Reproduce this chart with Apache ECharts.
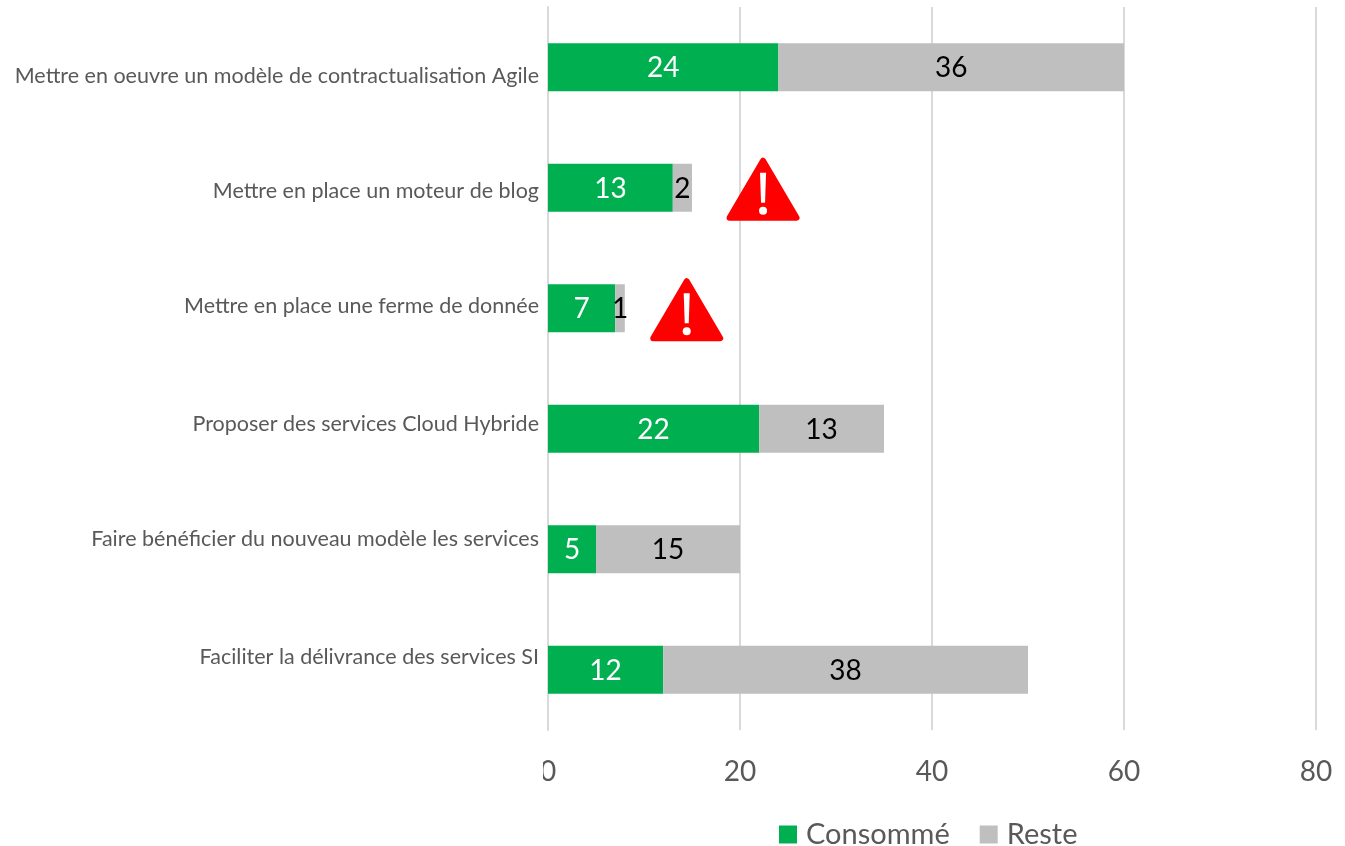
<!DOCTYPE html>
<html><head><meta charset="utf-8"><style>html,body{margin:0;padding:0;background:#fff}#c{width:1345px;height:846px}</style>
<script src="https://cdn.jsdelivr.net/npm/echarts@6/dist/echarts.min.js"></script></head>
<body><div id="c"></div><script>
const categories=["Mettre en oeuvre un modèle de contractualisation Agile","Mettre en place un moteur de blog","Mettre en place une ferme de donnée","Proposer des services Cloud Hybride","Faire bénéficier du nouveau modèle les services","Faciliter la délivrance des services SI"];
const consomme=[24,13,7,22,5,12];
const reste=[36,2,1,13,15,38];
const warnings=[[22.4,1],[14.45,2]];
const labelShift=[9,3,-2,-5,-10,-13];
const font="Lato";
const rich={};
labelShift.forEach((s,i)=>{rich['r'+i]={fontSize:21.5,color:'#595959',fontFamily:font,padding:s>0?[2*s,0,0,0]:[0,0,-2*s,0]};});
const chart=echarts.init(document.getElementById('c'));
chart.setOption({animation:false,textStyle:{fontFamily:font},
grid:{left:548,top:7,width:768,height:723,containLabel:false},
legend:{top:815,left:774,itemWidth:18,itemHeight:18,itemGap:30,icon:'rect',textStyle:{fontSize:29,color:'#595959',fontFamily:font,padding:[0,0,0,4]},data:['Consommé','Reste']},
xAxis:{type:'value',min:0,max:80,interval:20,axisLine:{show:false},axisTick:{show:false},axisLabel:{fontSize:28,color:'#595959',margin:28},splitLine:{show:true,lineStyle:{color:'#d9d9d9',width:2}}},
yAxis:{type:'category',inverse:true,data:categories,axisTick:{show:false},axisLine:{show:true,lineStyle:{color:'#d9d9d9',width:2}},axisLabel:{fontSize:21.5,color:'#595959',margin:9,fontFamily:font,rich:rich,formatter:function(v,i){return '{r'+i+'|'+v+'}';}}},
graphic:[{type:'rect',z:100,shape:{x:530,y:750,width:13,height:40},style:{fill:'#fff'}}],
series:[
{name:'Consommé',type:'bar',stack:'t',barWidth:48,data:consomme,itemStyle:{color:'#00b050'},label:{show:true,position:'inside',color:'#fff',fontSize:28,offset:[0,1]}},
{name:'Reste',type:'bar',stack:'t',data:reste,itemStyle:{color:'#bfbfbf'},label:{show:true,position:'inside',color:'#000',fontSize:28,offset:[0,1]}},
{type:'custom',silent:true,coordinateSystem:'cartesian2d',data:warnings,z:5,renderItem:function(p,api){
const c=api.coord([api.value(0),api.value(1)]);const x=c[0],y=c[1];
return {type:'group',children:[
{type:'polygon',shape:{points:[[x,y-27],[x+33.5,y+30],[x-33.5,y+30]]},style:{fill:'#ff0000',stroke:'#ff0000',lineWidth:6,lineJoin:'round'}},
{type:'polygon',shape:{points:[[x-3,y-15],[x+3,y-15],[x+2,y+15],[x-2,y+15]]},style:{fill:'#fff'}},
{type:'circle',shape:{cx:x,cy:y+23,r:4},style:{fill:'#fff'}}]};}}
]});
</script></body></html>
